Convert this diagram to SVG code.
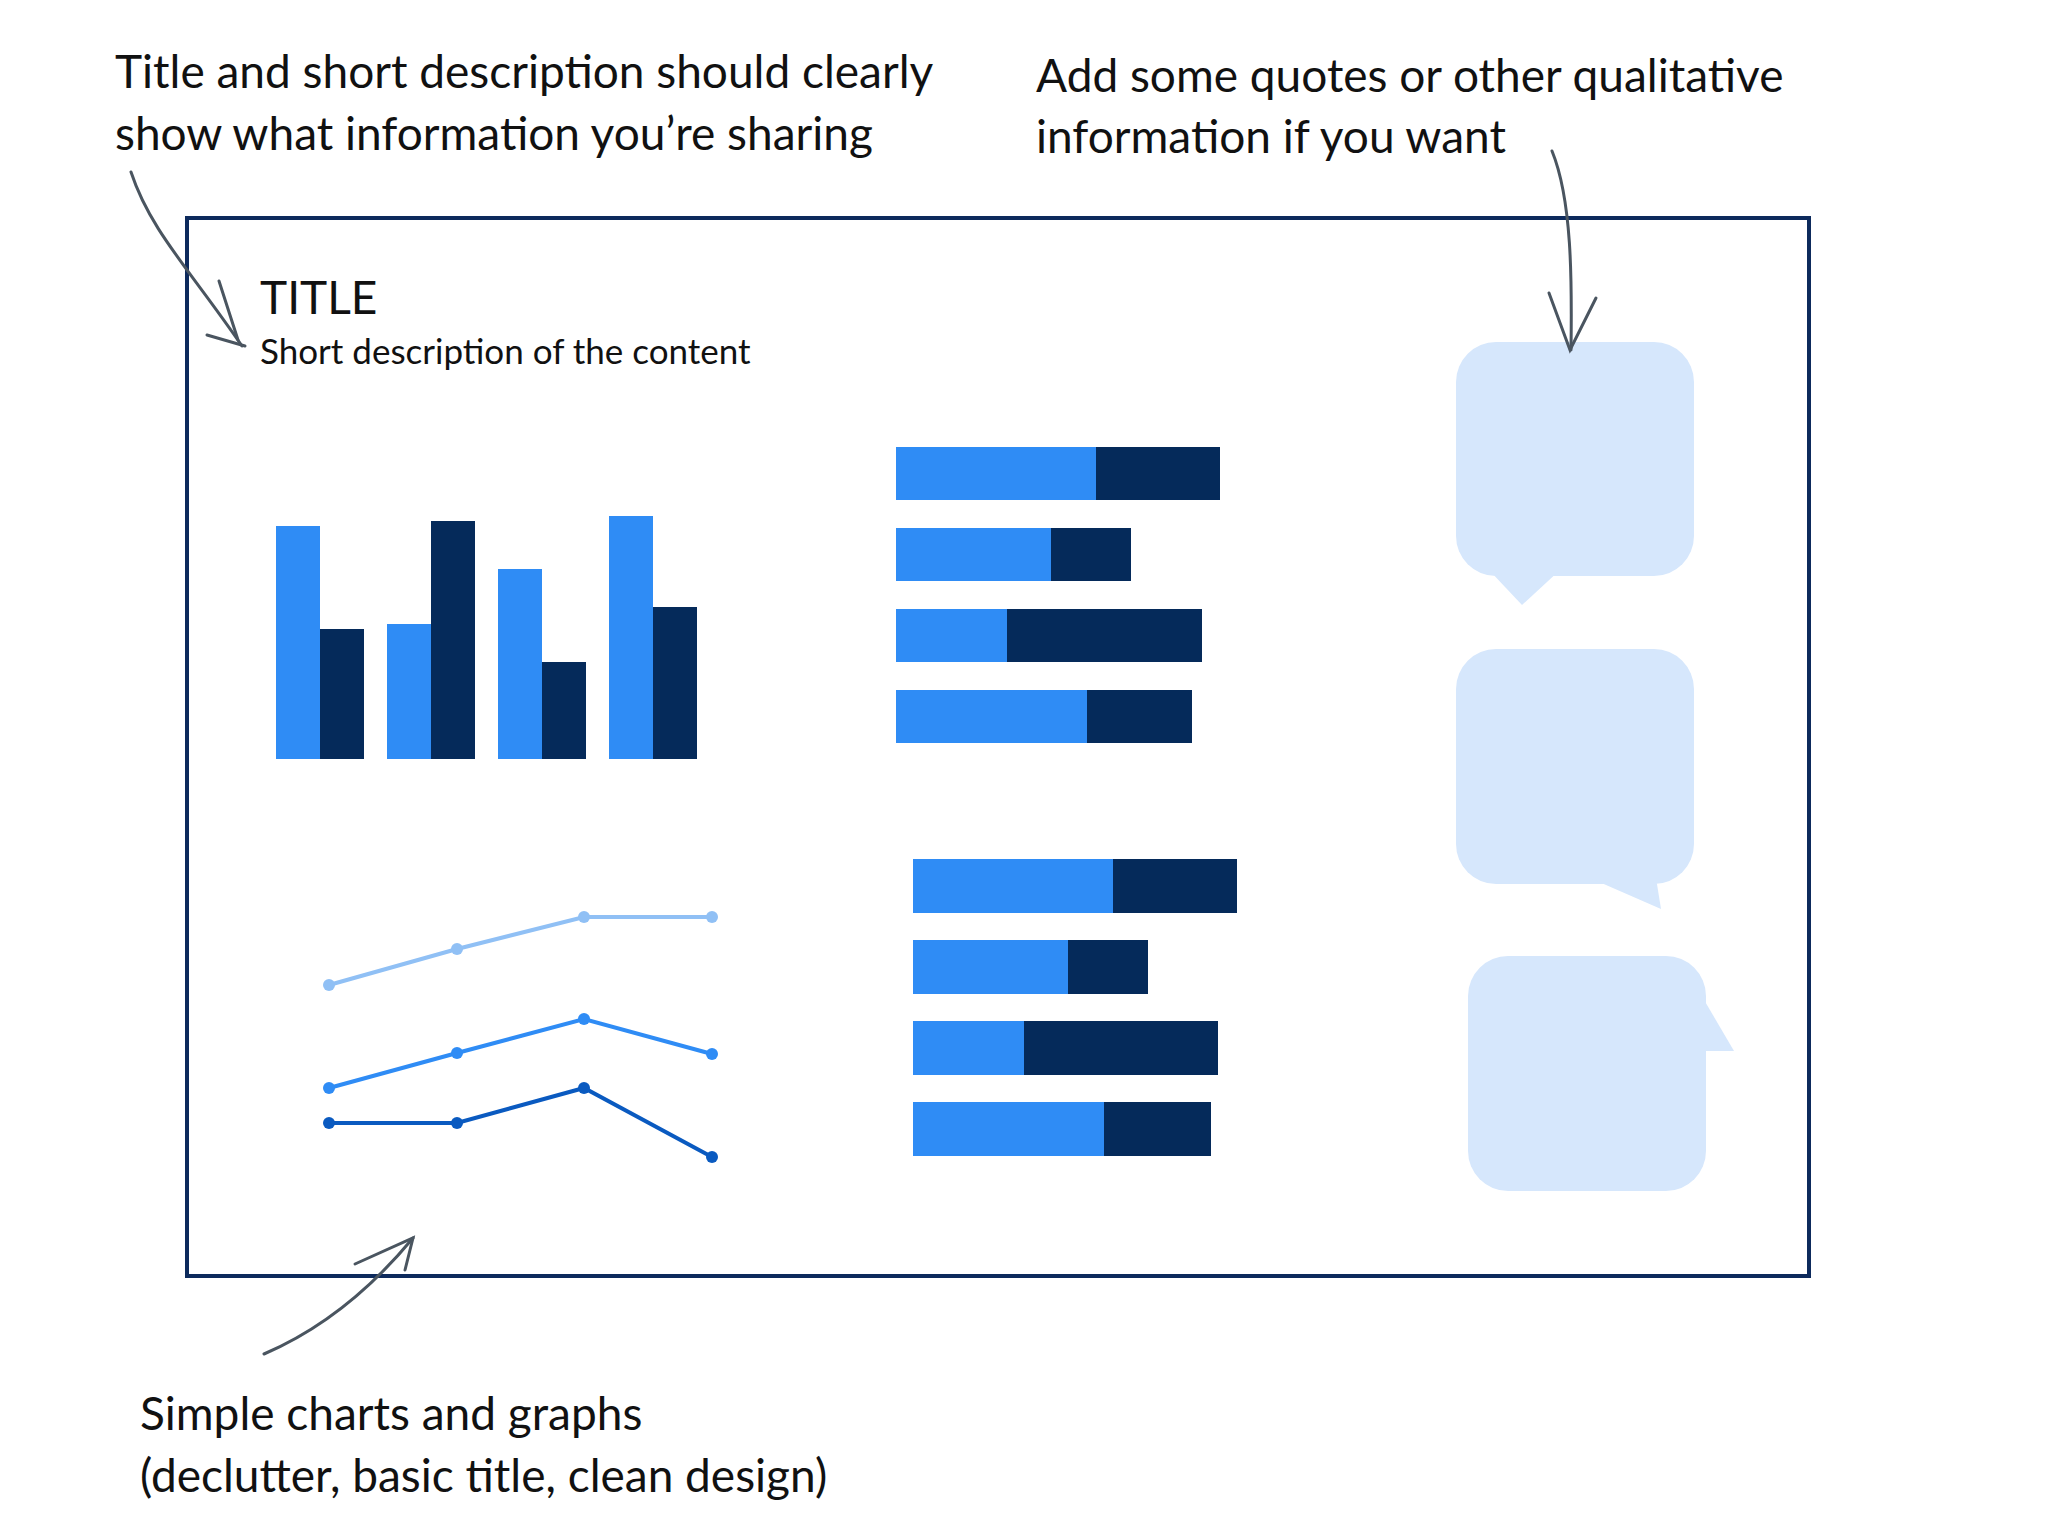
<svg xmlns="http://www.w3.org/2000/svg" width="2048" height="1536" viewBox="0 0 2048 1536">
<style>
.t{font-family:"Lato","Open Sans","DejaVu Sans",sans-serif;fill:#111;}
.L{fill:#2f8cf5}.D{fill:#052a5a}
.b{fill:#d6e7fc}
.ar{fill:none;stroke:#4a5560;stroke-width:3;stroke-linecap:round}
.ln{fill:none;stroke-width:4}
</style>
<rect width="2048" height="1536" fill="#fff"/>
<g id="annotations">
<text class="t" x="115" y="88" font-size="46">Title and short description should clearly</text>
<text class="t" x="115" y="150" font-size="46">show what information you’re sharing</text>
<text class="t" x="1036" y="92" font-size="46">Add some quotes or other qualitative</text>
<text class="t" x="1036" y="153" font-size="46">information if you want</text>
<text class="t" x="140" y="1430" font-size="46">Simple charts and graphs</text>
<text class="t" x="140" y="1492" font-size="46">(declutter, basic title, clean design)</text>
</g>
<g id="frame"><rect x="187" y="218" width="1622" height="1058" fill="none" stroke="#0d2a5c" stroke-width="4"/></g>
<g id="title">
<text class="t" x="260" y="314" font-size="46">TITLE</text>
<text class="t" x="260" y="364" font-size="35">Short description of the content</text>
</g>
<g id="bar-chart">
<rect class="L" x="276" y="526" width="44" height="233"/><rect class="D" x="320" y="629" width="44" height="130"/>
<rect class="L" x="387" y="624" width="44" height="135"/><rect class="D" x="431" y="521" width="44" height="238"/>
<rect class="L" x="498" y="569" width="44" height="190"/><rect class="D" x="542" y="662" width="44" height="97"/>
<rect class="L" x="609" y="516" width="44" height="243"/><rect class="D" x="653" y="607" width="44" height="152"/>
</g>
<g id="hbars-1">
<rect class="L" x="896" y="447" width="200" height="53"/><rect class="D" x="1096" y="447" width="124" height="53"/>
<rect class="L" x="896" y="528" width="155" height="53"/><rect class="D" x="1051" y="528" width="80" height="53"/>
<rect class="L" x="896" y="609" width="111" height="53"/><rect class="D" x="1007" y="609" width="195" height="53"/>
<rect class="L" x="896" y="690" width="191" height="53"/><rect class="D" x="1087" y="690" width="105" height="53"/>
</g>
<g id="hbars-2">
<rect class="L" x="913" y="859" width="200" height="54"/><rect class="D" x="1113" y="859" width="124" height="54"/>
<rect class="L" x="913" y="940" width="155" height="54"/><rect class="D" x="1068" y="940" width="80" height="54"/>
<rect class="L" x="913" y="1021" width="111" height="54"/><rect class="D" x="1024" y="1021" width="194" height="54"/>
<rect class="L" x="913" y="1102" width="191" height="54"/><rect class="D" x="1104" y="1102" width="107" height="54"/>
</g>
<g id="line-chart">
<polyline class="ln" stroke="#90c0f5" points="329,985 457,949 584,917 712,917"/>
<g fill="#90c0f5"><circle cx="329" cy="985" r="6"/><circle cx="457" cy="949" r="6"/><circle cx="584" cy="917" r="6"/><circle cx="712" cy="917" r="6"/></g>
<polyline class="ln" stroke="#2f8cf5" points="329,1088 457,1053 584,1019 712,1054"/>
<g fill="#2f8cf5"><circle cx="329" cy="1088" r="6"/><circle cx="457" cy="1053" r="6"/><circle cx="584" cy="1019" r="6"/><circle cx="712" cy="1054" r="6"/></g>
<polyline class="ln" stroke="#0a5ac0" points="329,1123 457,1123 584,1088 712,1157"/>
<g fill="#0a5ac0"><circle cx="329" cy="1123" r="6"/><circle cx="457" cy="1123" r="6"/><circle cx="584" cy="1088" r="6"/><circle cx="712" cy="1157" r="6"/></g>
</g>
<g id="bubble-1"><rect class="b" x="1456" y="342" width="238" height="234" rx="40"/><polygon class="b" points="1489,570 1522,605 1560,570"/></g>
<g id="bubble-2"><rect class="b" x="1456" y="649" width="238" height="235" rx="40"/><polygon class="b" points="1590,878 1661,909 1656,878"/></g>
<g id="bubble-3"><rect class="b" x="1468" y="956" width="238" height="235" rx="40"/><polygon class="b" points="1700,993 1734,1051 1700,1051"/></g>
<g id="connectors">
<path class="ar" d="M131,172 C150,230 190,270 242,346"/>
<path class="ar" d="M219,281 L238,340 M207,335 L245,346" stroke-width="5"/>
<path class="ar" d="M1552,151 C1572,200 1572,280 1571,350"/>
<path class="ar" d="M1549,293 L1570,350 L1596,298" stroke-width="5"/>
<path class="ar" d="M264,1354 C320,1330 370,1290 413,1238"/>
<path class="ar" d="M355,1264 L413,1238 L405,1270" stroke-width="5"/>
</g>
</svg>
